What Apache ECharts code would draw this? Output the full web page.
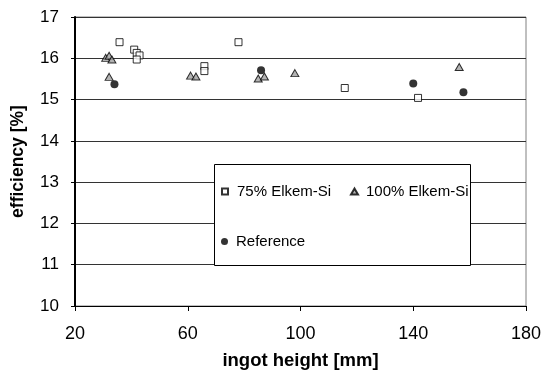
<!DOCTYPE html>
<html><head><meta charset="utf-8">
<script src="https://cdn.jsdelivr.net/npm/echarts@6/dist/echarts.min.js"></script>
<style>html,body{margin:0;padding:0;background:#fff}#c{width:545px;height:370px}</style>
</head><body><div id="c"></div>
<script>
const xTicks = [20, 60, 100, 140, 180];
const yTicks = [10, 11, 12, 13, 14, 15, 16, 17];
const elkem75 = [[35.8,16.39],[41.0,16.21],[41.9,16.13],[42.9,16.07],[41.9,15.97],[65.9,15.81],[65.9,15.69],[78.0,16.39],[115.7,15.28],[141.7,15.04]];
const elkem100 = [[30.9,16.01],[32.1,16.06],[33.1,15.97],[32.1,15.55],[61.0,15.58],[62.9,15.56],[85.0,15.51],[87.2,15.56],[98.0,15.64],[156.3,15.79]];
const reference = [[34.0,15.37],[86.0,15.71],[140.0,15.39],[157.8,15.18]];
const names = ['75% Elkem-Si','100% Elkem-Si','Reference'];

const chart = echarts.init(document.getElementById('c'), null, {renderer:'canvas'});
const font = 'Liberation Sans, Arial, sans-serif';
const legTxt = {fontFamily:font,fontSize:15,color:'#000'};
chart.setOption({
  animation:false,
  backgroundColor:'#fff',
  grid:{left:75,top:17,width:451,height:289,containLabel:false,outerBoundsMode:'none',
    show:true,borderColor:'#808080',borderWidth:1,backgroundColor:'transparent'},
  xAxis:{type:'value',min:xTicks[0],max:xTicks[xTicks.length-1],interval:40,
    name:'ingot height [mm]',nameLocation:'middle',nameGap:45,
    nameTextStyle:{fontFamily:font,fontWeight:'bold',fontSize:18.5,color:'#000'},
    axisLine:{show:true,lineStyle:{color:'#000',width:1}},
    axisTick:{show:true,inside:false,length:5,lineStyle:{color:'#000'}},
    axisLabel:{fontFamily:font,fontSize:18,color:'#000',margin:19},
    splitLine:{show:false}},
  yAxis:{type:'value',min:yTicks[0],max:yTicks[yTicks.length-1],interval:1,
    name:'efficiency [%]',nameLocation:'middle',nameGap:48,
    nameTextStyle:{fontFamily:font,fontWeight:'bold',fontSize:17.5,color:'#000'},
    axisLine:{show:true,lineStyle:{color:'#000',width:2}},
    axisTick:{show:true,inside:false,length:4,lineStyle:{color:'#000'}},
    axisLabel:{fontFamily:font,fontSize:17,color:'#000',margin:16},
    splitLine:{show:true,lineStyle:{color:'#333',width:1}}},
  graphic:[{type:'rect',shape:{x:214.5,y:164.5,width:256,height:101},
    style:{fill:'#fff',stroke:'#000',lineWidth:1},z:50}],
  legend:[
    {data:[names[0]],left:221,top:184,padding:0,itemWidth:6,itemHeight:6,z:60,
      textStyle:Object.assign({padding:[0,0,0,4]},legTxt)},
    {data:[names[1]],left:350,top:184,padding:0,itemWidth:7,itemHeight:6,z:60,
      textStyle:Object.assign({padding:[0,0,0,3]},legTxt)},
    {data:[names[2]],left:221,top:234,padding:0,itemWidth:7,itemHeight:7,z:60,
      textStyle:Object.assign({padding:[0,0,0,3]},legTxt)}
  ],
  series:[
    {name:names[0],type:'scatter',data:elkem75,symbol:'rect',symbolSize:7,
      itemStyle:{color:'#fff',borderColor:'#000',borderWidth:1},z:5},
    {name:names[1],type:'scatter',data:elkem100,symbol:'triangle',symbolSize:[8,7],
      itemStyle:{color:'#a0a0a0',borderColor:'#000',borderWidth:1},z:5},
    {name:names[2],type:'scatter',data:reference,symbol:'circle',symbolSize:8,
      itemStyle:{color:'#000',borderColor:'#000',borderWidth:0},z:5}
  ]
});
</script></body></html>
